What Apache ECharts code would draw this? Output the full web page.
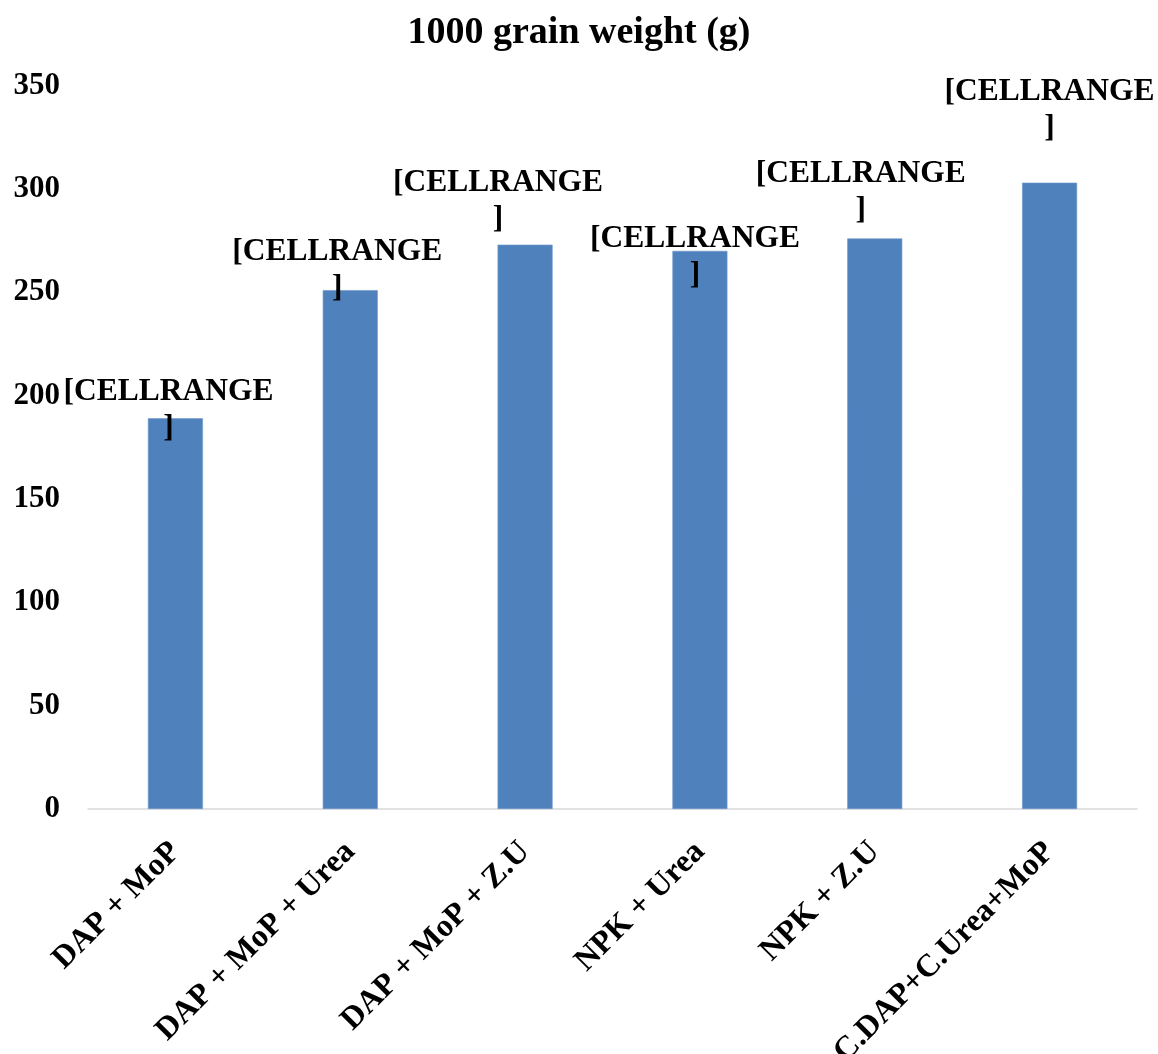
<!DOCTYPE html>
<html>
<head>
<meta charset="utf-8">
<title>1000 grain weight (g)</title>
<script src="https://cdn.jsdelivr.net/npm/echarts@6/dist/echarts.min.js"></script>
<style>
  html, body { margin: 0; padding: 0; background: #ffffff; }
  #chart { width: 1158px; height: 1054px; }
</style>
</head>
<body>
<div id="chart"></div>
<script>
// Treatments and their 1000-grain weight (g)
const categories = [
  'DAP + MoP',
  'DAP + MoP + Urea',
  'DAP + MoP + Z.U',
  'NPK + Urea',
  'NPK + Z.U',
  'C.DAP+C.Urea+MoP'
];
const grainWeight = [189, 251, 273, 270, 276, 303];

// Data-label text (unresolved cell-range placeholder) and per-bar nudges
const labelText = '[CELLRANGE\n]';
const labelOffsets = [[-7, 28], [-13, 16], [-27, -8], [-5, 42], [-14, -11], [0, -37]];

// Value-axis ticks
const yMin = 0, yMax = 350, yStep = 50;

const FONT = "'Liberation Serif', 'Times New Roman', serif";

const chart = echarts.init(document.getElementById('chart'), null, { renderer: 'canvas' });

chart.setOption({
  animation: false,
  backgroundColor: '#ffffff',
  title: {
    text: '1000 grain weight (g)',
    left: 'center',
    top: 9,
    textStyle: { fontFamily: FONT, fontWeight: 'bold', fontSize: 38, color: '#000000' }
  },
  grid: {
    left: 88, right: 21, top: 85.5, bottom: 245,
    containLabel: false,
    outerBoundsMode: 'none'
  },
  xAxis: {
    type: 'category',
    data: categories,
    axisLine: { show: true, lineStyle: { color: '#d9d9d9', width: 1.5 } },
    axisTick: { show: false },
    axisLabel: {
      interval: 0,
      rotate: 45,
      margin: 38,
      fontFamily: FONT,
      fontWeight: 'bold',
      fontSize: 32,
      color: '#000000'
    },
    splitLine: { show: false }
  },
  yAxis: {
    type: 'value',
    min: yMin,
    max: yMax,
    interval: yStep,
    axisLine: { show: false },
    axisTick: { show: false },
    splitLine: { show: false },
    axisLabel: {
      margin: 28,
      fontFamily: FONT,
      fontWeight: 'bold',
      fontSize: 31,
      color: '#000000'
    }
  },
  series: [{
    type: 'bar',
    barWidth: 55,
    itemStyle: { color: '#4f81bd', borderColor: '#6f97cb', borderWidth: 0.6 },
    data: grainWeight.map((v, i) => ({
      value: v,
      label: { offset: labelOffsets[i] }
    })),
    label: {
      show: true,
      position: 'top',
      distance: 0,
      formatter: () => labelText,
      fontFamily: FONT,
      fontWeight: 'bold',
      fontSize: 31.5,
      lineHeight: 36,
      align: 'center',
      color: '#000000'
    }
  }]
});
</script>
</body>
</html>
